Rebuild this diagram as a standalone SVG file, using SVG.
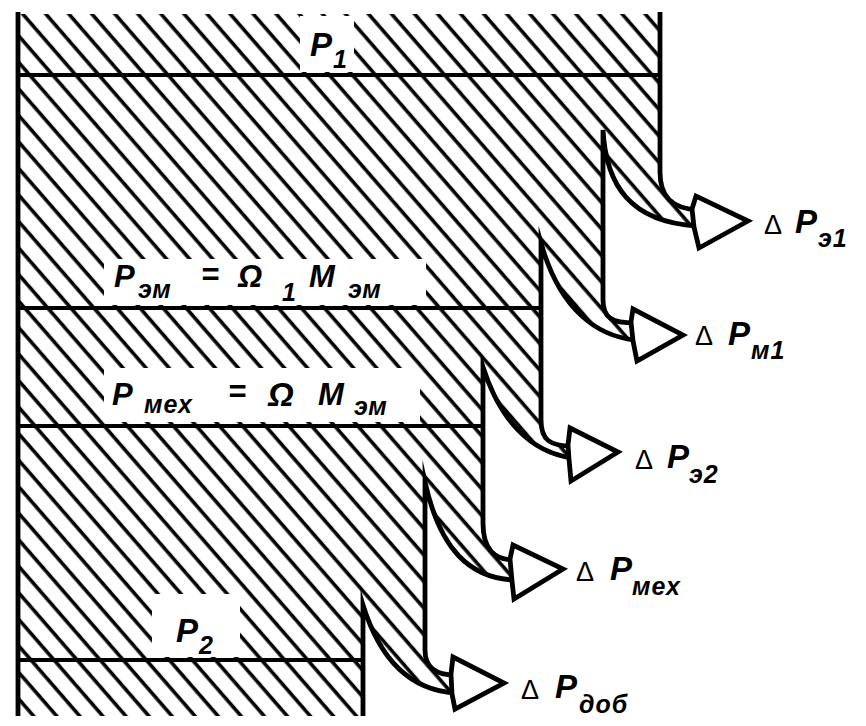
<svg xmlns="http://www.w3.org/2000/svg" width="866" height="726" viewBox="0 0 866 726">
<defs>
<pattern id="h" patternUnits="userSpaceOnUse" width="17.4" height="17.4" patternTransform="rotate(-41)">
<line x1="8" y1="-1" x2="8" y2="18.4" stroke="#000" stroke-width="3.6"/>
</pattern>
<style>
.ol{fill:none;stroke:#000;stroke-width:4.8;stroke-linejoin:miter;stroke-miterlimit:20}
.hl{stroke:#000;stroke-width:4.2}
.ar{fill:#fff;stroke:#000;stroke-width:4.8;stroke-linejoin:miter}
.clr{fill:#fff}
text{font-family:"Liberation Sans","DejaVu Sans",sans-serif;font-style:italic;font-weight:bold;fill:#000}
.big{font-size:33px}
.mid{font-size:31px}
.sub{font-size:25px;letter-spacing:1px}
.d{font-size:27px;font-style:normal;font-weight:normal}
</style>
</defs>
<rect width="866" height="726" fill="#fff"/>
<g id="flow">
<path fill="url(#h)" d="M18,14 L660,14 L660,172 C660,197 672,208 694,210 L694,226 C630,222 606,185 603,130 L603,300 C603,318 612,323 633,323 L633,340 C597,336 560,310 541,243 L541,420 C541,440 550,446 570,446 L570,458 C530,452 500,420 483,367 L483,523 C483,550 495,560 512,560 L512,580 C470,578 440,550 425,482 L425,650 C425,668 436,675 453,675 L453,693 C410,690 380,660 363,605 L363,716 L18,716 Z"/>
<rect class="clr" x="300" y="16" width="54" height="56"/>
<rect class="clr" x="104" y="259" width="322" height="46"/>
<rect class="clr" x="104" y="368" width="316" height="54"/>
<rect class="clr" x="152" y="594" width="88" height="63"/>
<line class="hl" x1="18" y1="75" x2="660" y2="75"/>
<line class="hl" x1="18" y1="308" x2="541" y2="308"/>
<line class="hl" x1="18" y1="426" x2="483" y2="426"/>
<line class="hl" x1="18" y1="660" x2="363" y2="660"/>
<path class="ol" d="M18,716 L18,12"/>
<path class="ol" d="M660,12 L660,172 C660,197 672,208 697,210"/>
<path class="ol" d="M697,226 C630,222 606,185 603,130 L603,300 C603,318 612,323 635,323"/>
<path class="ol" d="M635,340 C597,336 560,310 541,243 L541,420 C541,440 550,446 572,446"/>
<path class="ol" d="M572,458 C530,452 500,420 483,367 L483,523 C483,550 495,560 514,560"/>
<path class="ol" d="M514,580 C470,578 440,550 425,482 L425,650 C425,668 436,675 455,675"/>
<path class="ol" d="M455,693 C410,690 380,660 363,605 L363,716"/>
</g>
<g id="arrows">
<polygon class="ar" points="692,209 696,196 748,221 699,248 694,227"/>
<polygon class="ar" points="631,322 633,309 683,335 637,361 633,341"/>
<polygon class="ar" points="568,445 570,428 618,452 571,481 569,459"/>
<polygon class="ar" points="510,559 513,545 563,569 514,599 512,581"/>
<polygon class="ar" points="451,674 453,657 504,683 455,709 452,694"/>
</g>
<g id="labels">
<text class="big" x="310" y="56">P</text><text class="sub" x="333" y="68">1</text>
<text class="mid" x="114" y="287">P</text><text class="sub" x="138" y="298">эм</text><text class="mid" x="201" y="285">=</text><text class="mid" x="238" y="287">Ω</text><text class="sub" x="282" y="301">1</text><text class="mid" x="309" y="287">M</text><text class="sub" x="348" y="298">эм</text>
<text class="mid" x="112" y="405">P</text><text class="sub" x="144" y="413">мех</text><text class="mid" x="228" y="402">=</text><text class="big" x="268" y="406">Ω</text><text class="mid" x="318" y="405">M</text><text class="sub" x="354" y="415">эм</text>
<text class="big" x="176" y="642">P</text><text class="sub" x="199" y="654">2</text>
</g>
<g id="loss-labels">
<text class="d" x="764" y="234">Δ</text><text class="big" x="795" y="233">P</text><text class="sub" x="818" y="247">э1</text>
<text class="d" x="695" y="345">Δ</text><text class="big" x="728" y="345">P</text><text class="sub" x="751" y="359">м1</text>
<text class="d" x="635" y="469">Δ</text><text class="big" x="667" y="468">P</text><text class="sub" x="689" y="483">э2</text>
<text class="d" x="576" y="581">Δ</text><text class="big" x="610" y="580">P</text><text class="sub" x="632" y="595">мех</text>
<text class="d" x="521" y="699">Δ</text><text class="big" x="555" y="698">P</text><text class="sub" x="579" y="713">доб</text>
</g>
</svg>
